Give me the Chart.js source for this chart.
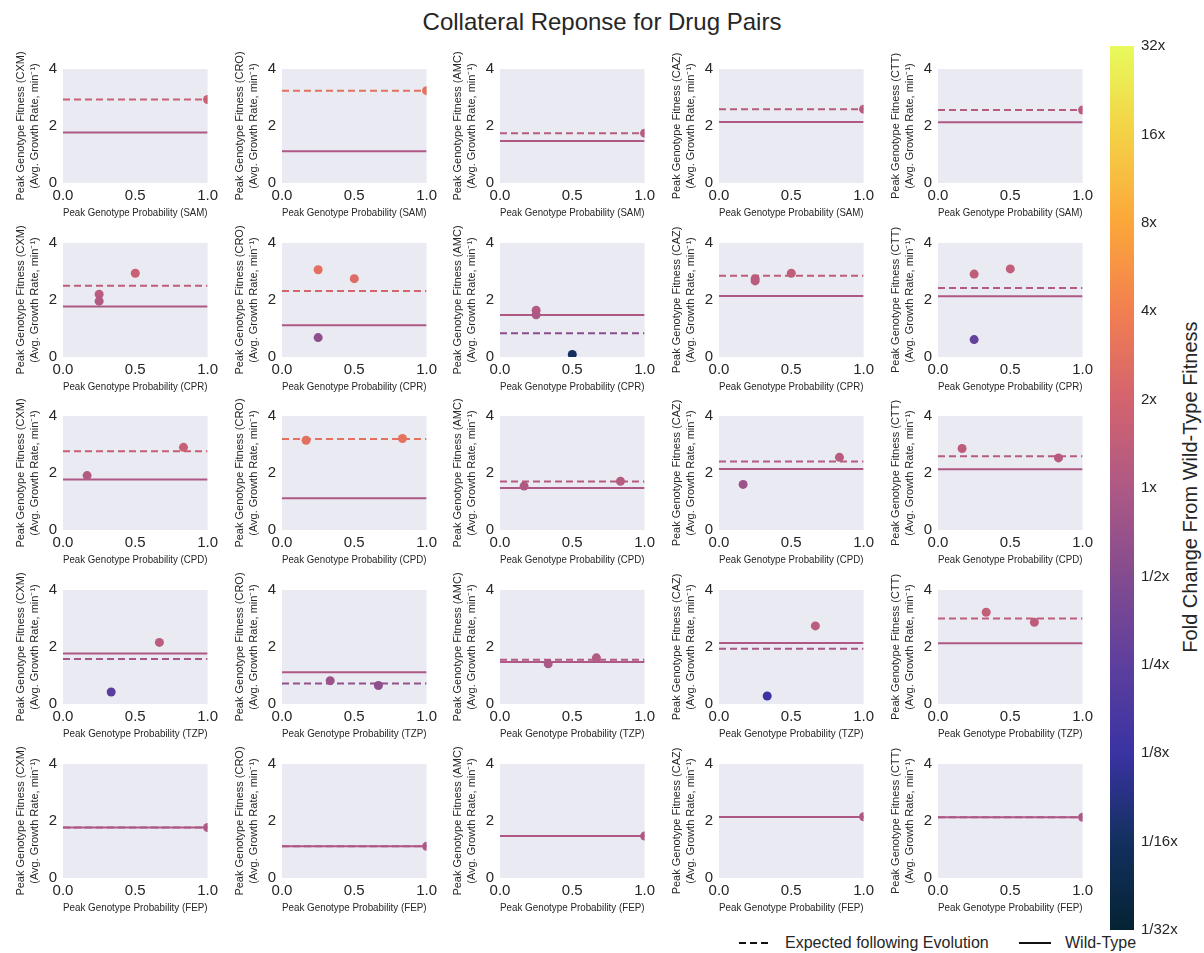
<!DOCTYPE html>
<html>
<head>
<meta charset="utf-8">
<script src="https://cdn.jsdelivr.net/npm/chart.js@4.4.1/dist/chart.umd.min.js"></script>
<style>
  body { margin: 0; background: #ffffff; }
  #fig { position: relative; width: 1204px; height: 953px; overflow: hidden;
         font-family: "Liberation Sans", Arial, sans-serif; color: #262626; background: #fff; }
  #title { position: absolute; left: 0; top: 8px; width: 1204px; text-align: center;
           font-size: 24px; line-height: 28px; }
  .panel { position: absolute; }
  #cbar-label { position: absolute; left: 1190px; top: 487px; width: 420px; margin-left: -210px;
                text-align: center; font-size: 20px; line-height: 24px; margin-top: -12px;
                transform: rotate(-90deg); white-space: nowrap; }
  #legend { position: absolute; top: 932px; left: 0; height: 22px; font-size: 16px; line-height: 22px; }
  .leg-item { position: absolute; top: 0; white-space: nowrap; }
  .leg-item svg { position: absolute; top: 5px; }
</style>
</head>
<body>
<div id="fig">
  <div id="title">Collateral Reponse for Drug Pairs</div>
  <div id="cbar-label">Fold Change From Wild-Type Fitness</div>
  <div id="legend">
    <div class="leg-item" style="left:738px;">
      <svg width="34" height="12"><line x1="1" y1="6" x2="33" y2="6" stroke="#111" stroke-width="2" stroke-dasharray="7,4"/></svg>
      <span style="position:absolute;left:47px;">Expected following Evolution</span>
    </div>
    <div class="leg-item" style="left:1018px;">
      <svg width="34" height="12"><line x1="1" y1="6" x2="33" y2="6" stroke="#111" stroke-width="2"/></svg>
      <span style="position:absolute;left:47px;">Wild-Type</span>
    </div>
  </div>
</div>
<script>
// Drugs: rows are the evolution drug (x-axis), columns the drug whose fitness is measured (y-axis)
const rowDrugs = ['SAM', 'CPR', 'CPD', 'TZP', 'FEP'];
const colDrugs = ['CXM', 'CRO', 'AMC', 'CAZ', 'CTT'];

// Wild-type peak fitness for each column drug
const wildType = [1.77, 1.11, 1.47, 2.14, 2.13];

// Expected fitness following evolution (row = evolution drug, col = measured drug)
const expectedSAM = [2.93, 3.24, 1.75, 2.59, 2.56];
const expectedCPR = [2.50, 2.32, 0.83, 2.85, 2.42];
const expectedCPD = [2.76, 3.19, 1.70, 2.40, 2.59];
const expectedTZP = [1.58, 0.72, 1.55, 1.94, 3.00];
const expectedFEP = [1.77, 1.11, 1.47, 2.14, 2.13];

// Peak genotype probabilities after evolution in each drug
const probSAM = [1.0];
const probCPR = [0.25, 0.25, 0.5];
const probCPD = [0.1667, 0.8333];
const probTZP = [0.3333, 0.6667];
const probFEP = [1.0];

// Fitness of each peak genotype, listed per measured drug (CXM, CRO, AMC, CAZ, CTT)
const fitSAM = [[2.93], [3.24], [1.75], [2.59], [2.56]];
const fitCPR = [[2.20, 1.96, 2.94], [3.06, 0.68, 2.75], [1.64, 1.48, 0.09], [2.75, 2.67, 2.94], [2.91, 0.61, 3.09]];
const fitCPD = [[1.91, 2.90], [3.15, 3.21], [1.54, 1.71], [1.60, 2.55], [2.86, 2.53]];
const fitTZP = [[0.42, 2.16], [0.82, 0.65], [1.41, 1.62], [0.28, 2.74], [3.22, 2.87]];
const fitFEP = [[1.77], [1.11], [1.47], [2.15], [2.13]];

// Colour bar tick labels (log2 fold change from -5 to 5)
const foldLabels = ['1/32x', '1/16x', '1/8x', '1/4x', '1/2x', '1x', '2x', '4x', '8x', '16x', '32x'];

const expectedRows = [expectedSAM, expectedCPR, expectedCPD, expectedTZP, expectedFEP];
const probRows = [probSAM, probCPR, probCPD, probTZP, probFEP];
const fitRows = [fitSAM, fitCPR, fitCPD, fitTZP, fitFEP];

// Thermal-style colour map
const cmapStops = [
  [0.0, '#042333'], [0.1, '#13305f'], [0.2, '#3a33a3'], [0.3, '#5d3f9d'],
  [0.4, '#834b8f'], [0.5, '#ae5985'], [0.6, '#d3636e'], [0.7, '#f27f50'],
  [0.8, '#fba73a'], [0.9, '#f4d146'], [1.0, '#e8fa5b']
];
function hexToRgb(h) { return [1, 3, 5].map(i => parseInt(h.substr(i, 2), 16)); }
function cmap(t) {
  t = Math.max(0, Math.min(1, t));
  for (let i = 1; i < cmapStops.length; i++) {
    if (t <= cmapStops[i][0]) {
      const [t0, c0] = cmapStops[i - 1], [t1, c1] = cmapStops[i];
      const f = (t - t0) / (t1 - t0);
      const a = hexToRgb(c0), b = hexToRgb(c1);
      const m = a.map((v, k) => Math.round(v + (b[k] - v) * f));
      return `rgb(${m[0]},${m[1]},${m[2]})`;
    }
  }
  return cmapStops[cmapStops.length - 1][1];
}
function foldColor(ratio) { return cmap((Math.log2(ratio) + 5) / 10); }

const FONT = '"Liberation Sans", Arial, sans-serif';
const TEXT = '#262626';
const plotLefts = [63, 282, 500, 719, 938];
const plotTops = [69, 243, 416, 590, 764];
const PLOT_W = 147, PLOT_H = 114, PAD_L = 60, PAD_T = 26, PAD_R = 12, PAD_B = 46;

const panelBg = {
  id: 'panelBg',
  beforeDraw(chart) {
    const a = chart.chartArea, ctx = chart.ctx;
    ctx.save();
    ctx.fillStyle = '#eaeaf2';
    ctx.fillRect(a.left, a.top, a.right - a.left, a.bottom - a.top);
    ctx.restore();
  }
};

const fig = document.getElementById('fig');

function makePanel(r, c) {
  const wrap = document.createElement('div');
  wrap.className = 'panel';
  const W = PAD_L + PLOT_W + PAD_R, H = PAD_T + PLOT_H + PAD_B;
  wrap.style.left = (plotLefts[c] - PAD_L) + 'px';
  wrap.style.top = (plotTops[r] - PAD_T) + 'px';
  wrap.style.width = W + 'px';
  wrap.style.height = H + 'px';
  const cv = document.createElement('canvas');
  cv.width = W; cv.height = H;
  wrap.appendChild(cv);
  fig.appendChild(wrap);

  const wt = wildType[c];
  const ex = expectedRows[r][c];
  const pts = probRows[r].map((p, i) => ({ x: p, y: fitRows[r][c][i] }));

  new Chart(cv, {
    type: 'scatter',
    data: {
      datasets: [
        { type: 'line', data: [{ x: 0, y: wt }, { x: 1, y: wt }], borderColor: foldColor(1),
          borderWidth: 2, pointRadius: 0, clip: 0, order: 3 },
        { type: 'line', data: [{ x: 0, y: ex }, { x: 1, y: ex }], borderColor: foldColor(ex / wt),
          borderWidth: 2, borderDash: [7, 4], pointRadius: 0, clip: 0, order: 2 },
        { data: pts, backgroundColor: pts.map(p => foldColor(p.y / wt)), pointRadius: 4.5,
          borderWidth: 0, clip: 0, order: 1 }
      ]
    },
    options: {
      responsive: false, animation: false, events: [],
      layout: { padding: { top: PAD_T, right: PAD_R, bottom: 0, left: 0 }, autoPadding: false },
      plugins: { legend: { display: false }, tooltip: { enabled: false } },
      scales: {
        x: {
          type: 'linear', min: 0, max: 1,
          grid: { display: false, drawTicks: false }, border: { display: false },
          ticks: { stepSize: 0.5, padding: 4, autoSkip: false, maxRotation: 0, color: TEXT,
                   font: { size: 15, family: FONT }, callback: v => Number(v).toFixed(1) },
          title: { display: true, text: 'Peak Genotype Probability (' + rowDrugs[r] + ')', color: TEXT,
                   font: { size: 11, family: FONT }, padding: { top: 0, bottom: 9 } },
          afterFit(s) { s.height = PAD_B; }
        },
        y: {
          type: 'linear', min: 0, max: 4,
          grid: { display: false, drawTicks: false }, border: { display: false },
          ticks: { stepSize: 2, padding: 6, color: TEXT, font: { size: 15, family: FONT } },
          title: { display: true, color: TEXT,
                   text: ['Peak Genotype Fitness (' + colDrugs[c] + ')', '(Avg. Growth Rate, min\u207B\u00B9)'],
                   font: { size: 11, family: FONT, lineHeight: 1.3 }, padding: { top: 11, bottom: 0 } },
          afterFit(s) { s.width = PAD_L; }
        }
      }
    },
    plugins: [panelBg]
  });
}

for (let r = 0; r < rowDrugs.length; r++)
  for (let c = 0; c < colDrugs.length; c++) makePanel(r, c);

// Colour bar
(function () {
  const wrap = document.createElement('div');
  wrap.className = 'panel';
  const W = 24 + 60, H = 916;
  wrap.style.left = '1110px'; wrap.style.top = '30px';
  wrap.style.width = W + 'px'; wrap.style.height = H + 'px';
  const cv = document.createElement('canvas');
  cv.width = W; cv.height = H;
  wrap.appendChild(cv);
  fig.appendChild(wrap);

  new Chart(cv, {
    type: 'bar',
    data: {
      labels: [''],
      datasets: [{
        data: [[-5, 5]],
        borderWidth: 0, barPercentage: 1, categoryPercentage: 1,
        backgroundColor(ctx) {
          const a = ctx.chart.chartArea;
          if (!a) return '#888';
          const g = ctx.chart.ctx.createLinearGradient(0, a.bottom, 0, a.top);
          for (let i = 0; i <= 50; i++) g.addColorStop(i / 50, cmap(i / 50));
          return g;
        }
      }]
    },
    options: {
      responsive: false, animation: false, events: [],
      layout: { padding: { top: 10, bottom: 10, left: 0, right: 0 }, autoPadding: false },
      plugins: { legend: { display: false }, tooltip: { enabled: false } },
      scales: {
        x: { display: false },
        y: {
          position: 'right', min: -5, max: 5,
          grid: { display: false, drawTicks: false }, border: { display: false },
          ticks: { stepSize: 1, padding: 7, color: TEXT, font: { size: 15, family: FONT },
                   callback: v => foldLabels[Math.round(v) + 5] },
          afterFit(s) { s.width = 60; }
        }
      }
    }
  });
})();
</script>
</body>
</html>
